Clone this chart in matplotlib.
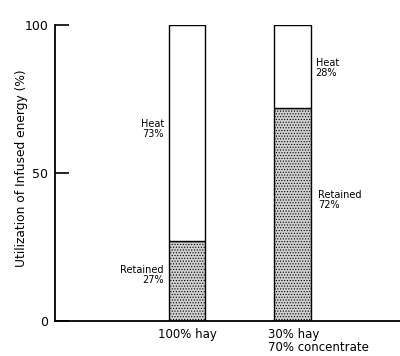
import matplotlib.pyplot as plt
import matplotlib.transforms as mtransforms

plt.rcParams['font.family'] = ['DejaVu Sans']
plt.rcParams['hatch.color'] = '#7a7a7a'
plt.rcParams['hatch.linewidth'] = 0.5

diets = ['100% hay', '30% hay\n70% concentrate']
retained = [27, 72]
heat = [73, 28]
yticks = [0, 50, 100]

fig = plt.figure(figsize=(4.0, 3.56), dpi=100)
ax = fig.add_axes([0.1375, 0.0983, 0.8625, 0.8317])

pos = [0, 1]
w = 0.35
ax.bar(pos, retained, width=w, color='#cfcfcf', hatch='......',
       edgecolor='black', linewidth=1.0)
ax.bar(pos, heat, width=w, bottom=retained, color='white',
       edgecolor='black', linewidth=1.0)

ax.set_xlim(-1.251, 2.019)
ax.set_ylim(0, 100)

for s in ['top', 'right']:
    ax.spines[s].set_visible(False)
ax.spines['left'].set_linewidth(1.3)
ax.spines['bottom'].set_linewidth(1.3)

ax.set_yticks(yticks)
ax.set_yticklabels([str(t) for t in yticks], fontsize=9)
ax.tick_params(axis='y', direction='in', length=10, width=1.2, pad=5)
ax.set_xticks([])
ax.set_ylabel('Utilization of Infused energy (%)', fontsize=8.8)
ax.yaxis.set_label_coords(-0.078, 0.517)

# category labels
tr = mtransforms.blended_transform_factory(ax.transData, ax.transAxes)
ax.text(pos[0], -0.025, diets[0], transform=tr, ha='center', va='top', fontsize=8.5)
ax.text(pos[1] - 0.235, -0.025, diets[1], transform=tr, ha='left', va='top',
        fontsize=8.5, linespacing=1.0)

# segment labels
ax.text(pos[0] - 0.22, 65, 'Heat\n%d%%' % heat[0], ha='right', va='center',
        fontsize=7, multialignment='right', linespacing=1.0)
ax.text(pos[0] - 0.22, 15.5, 'Retained\n%d%%' % retained[0], ha='right', va='center',
        fontsize=7, multialignment='right', linespacing=1.0)
ax.text(pos[1] + 0.22, 85.5, 'Heat\n%d%%' % heat[1], ha='left', va='center',
        fontsize=7, linespacing=1.0)
ax.text(pos[1] + 0.24, 41, 'Retained\n%d%%' % retained[1], ha='left', va='center',
        fontsize=7, linespacing=1.0)

fig.savefig('out.png', dpi=100)
